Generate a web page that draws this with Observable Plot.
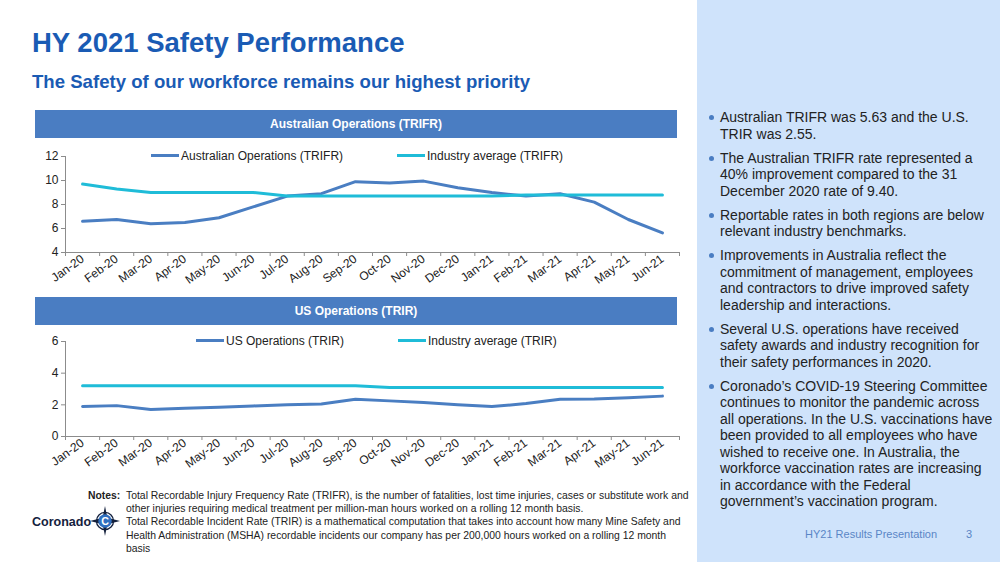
<!DOCTYPE html>
<html><head><meta charset="utf-8">
<script src="https://cdn.jsdelivr.net/npm/d3@7"></script>
<script src="https://cdn.jsdelivr.net/npm/@observablehq/plot@0.6"></script>
<style>
html,body{margin:0;padding:0}
body{width:1000px;height:562px;overflow:hidden;position:relative;background:#fff;font-family:"Liberation Sans",Arial,sans-serif;color:#222}
.abs{position:absolute}
#panel{left:697px;top:0;width:303px;height:562px;background:#cfe3fb}
#title{left:32px;top:27px;font-size:27.5px;font-weight:bold;color:#1a5bb4;white-space:nowrap}
#subtitle{left:32px;top:71px;font-size:18.6px;font-weight:bold;color:#1a5bb4;white-space:nowrap}
.bar{left:35px;width:642px;height:28px;background:#4a7dc2;color:#fff;font-weight:bold;font-size:12px;line-height:28px;text-align:center}
.chart{left:0;width:700px}
.legend{font-size:12px;color:#222;white-space:nowrap;line-height:14px}
.legend span.sw{display:inline-block;width:28px;height:3px;vertical-align:middle;margin-right:2px;position:relative;top:-1px}
#bullets{left:706px;top:109px;width:290px;font-size:14px;line-height:16.5px;color:#222;margin:0;padding:0;list-style:none}
#bullets li{position:relative;padding-left:14px;margin-bottom:7.5px}
#bullets li::before{content:"";position:absolute;left:3px;top:6px;width:5px;height:5px;border-radius:50%;background:#4a7dc2}
#notes{left:88px;top:489px;width:610px;font-size:10.4px;line-height:13.2px;color:#222}
#notes .lab{position:absolute;left:0;top:0;font-weight:bold}
#notes .txt{margin-left:38px;width:566px}
#logo{left:32px;top:508px;font-size:12.5px;font-weight:bold;color:#14213d;white-space:nowrap}
#footer{left:805px;top:528px;font-size:11px;color:#5a86c6;white-space:nowrap}
#page{left:966px;top:528px;font-size:11px;color:#5a86c6}
</style></head><body>
<div id="panel" class="abs"></div>
<div id="title" class="abs">HY 2021 Safety Performance</div>
<div id="subtitle" class="abs">The Safety of our workforce remains our highest priority</div>
<div class="abs bar" style="top:110px">Australian Operations (TRIFR)</div>
<div class="abs bar" style="top:297px">US Operations (TRIR)</div>
<div id="c1" class="abs chart" style="top:145px"></div>
<div id="c2" class="abs chart" style="top:330px"></div>
<div id="l1" class="abs"></div>
<div id="l2" class="abs"></div>
<ul id="bullets" class="abs"></ul>
<div id="notes" class="abs"><div class="lab">Notes:</div><div class="txt">Total Recordable Injury Frequency Rate (TRIFR), is the number of fatalities, lost time injuries, cases or substitute work and other injuries requiring medical treatment per million-man hours worked on a rolling 12 month basis.<br>Total Recordable Incident Rate (TRIR) is a mathematical computation that takes into account how many Mine Safety and Health Administration (MSHA) recordable incidents our company has per 200,000 hours worked on a rolling 12 month basis</div></div>
<div id="logo" class="abs">Coronado<svg width="30" height="30" viewBox="-14 -14 28 28" style="vertical-align:middle;margin-left:-1px;position:relative;top:-2px"><path d="M0,-14 L2.2,-3 L14,0 L2.2,3 L0,14 L-2.2,3 L-14,0 L-2.2,-3Z" fill="#14213d"/><circle r="8" fill="none" stroke="#14213d" stroke-width="1.2"/><circle r="6.3" fill="#2f6fc0"/><text x="0" y="3.6" font-size="10" font-weight="bold" fill="#fff" text-anchor="middle">C</text></svg></div>
<div id="footer" class="abs">HY21 Results Presentation</div>
<div id="page" class="abs">3</div>
<script>
// ---- data ----
const months = ["Jan-20","Feb-20","Mar-20","Apr-20","May-20","Jun-20","Jul-20","Aug-20","Sep-20","Oct-20","Nov-20","Dec-20","Jan-21","Feb-21","Mar-21","Apr-21","May-21","Jun-21"];
const ausTRIFR = [6.6,6.75,6.4,6.5,6.9,7.8,8.7,8.9,9.9,9.8,9.95,9.4,9.0,8.7,8.9,8.2,6.75,5.63];
const indTRIFR = [9.7,9.3,9.0,9.0,9.0,9.0,8.7,8.7,8.7,8.7,8.7,8.7,8.7,8.8,8.8,8.8,8.8,8.8];
const usTRIR = [1.9,1.95,1.7,1.78,1.85,1.93,2.0,2.05,2.35,2.25,2.14,2.01,1.89,2.08,2.35,2.37,2.45,2.55];
const indTRIR = [3.2,3.2,3.2,3.2,3.2,3.2,3.2,3.2,3.2,3.1,3.1,3.1,3.1,3.1,3.1,3.1,3.1,3.1];
const yTicksAus = [4,6,8,10,12];
const yTicksUS = [0,2,4,6];
const seriesAus = ["Australian Operations (TRIFR)","Industry average (TRIFR)"];
const seriesUS = ["US Operations (TRIR)","Industry average (TRIR)"];
const colors = ["#4a7ec2","#1fbcd8"];
const bulletText = [
  "Australian TRIFR was 5.63 and the U.S. TRIR was 2.55.",
  "The Australian TRIFR rate represented a 40% improvement compared to the 31 December 2020 rate of 9.40.",
  "Reportable rates in both regions are below relevant industry benchmarks.",
  "Improvements in Australia reflect the commitment of management, employees and contractors to drive improved safety leadership and interactions.",
  "Several U.S. operations have received safety awards and industry recognition for their safety performances in 2020.",
  "Coronado\u2019s COVID-19 Steering Committee continues to monitor the pandemic across all operations. In the U.S. vaccinations have been provided to all employees who have wished to receive one. In Australia, the workforce vaccination rates are increasing in accordance with the Federal government\u2019s vaccination program."
];

const FONT = '"Liberation Sans", Arial, sans-serif';
function chart(valuesList, yTicks, height) {
  const idx = months.map((_, i) => i);
  const bounds = d3.range(months.length + 1).map(i => i - 0.5);
  const xDomain = [bounds[0], bounds[bounds.length - 1]];
  const yDomain = d3.extent(yTicks);
  const axisColor = "#8c8c8c";
  return Plot.plot({
    width: 700, height,
    marginLeft: 65, marginRight: 21, marginTop: 11, marginBottom: 38,
    x: {domain: xDomain},
    y: {domain: yDomain},
    style: {fontFamily: FONT, fontSize: "12px", background: "transparent", overflow: "visible", color: "#222"},
    marks: [
      Plot.ruleY([yDomain[0]], {stroke: axisColor}),
      Plot.ruleX([xDomain[0]], {stroke: axisColor}),
      Plot.axisY({ticks: yTicks, tickSize: 4, tickPadding: 3, tickFormat: d => String(d), stroke: axisColor, fill: "#222", fontSize: 12, label: null}),
      Plot.axisX({ticks: bounds, tickSize: 4, tickFormat: () => "", stroke: axisColor, label: null}),
      Plot.axisX({ticks: idx, tickSize: 0, tickPadding: 5, tickRotate: -36, tickFormat: i => months[i], fill: "#222", fontSize: 12, label: null}),
      ...valuesList.map((vals, k) => Plot.line(idx, {x: i => i, y: i => vals[i], stroke: colors[k], strokeWidth: 3, strokeLinejoin: "round"}))
    ]
  });
}
document.getElementById("c1").append(chart([ausTRIFR, indTRIFR], yTicksAus, 145));
document.getElementById("c2").append(chart([usTRIR, indTRIR], yTicksUS, 144));

function legend(el, names, positions, top) {
  const box = document.getElementById(el);
  names.forEach((n, k) => {
    const d = document.createElement("div");
    d.className = "abs legend";
    d.style.left = positions[k] + "px";
    d.style.top = top + "px";
    d.innerHTML = `<span class="sw" style="background:${colors[k]}"></span>${n}`;
    box.append(d);
  });
}
legend("l1", seriesAus, [151, 397], 149);
legend("l2", seriesUS, [196, 398], 334);

const ul = document.getElementById("bullets");
bulletText.forEach(t => { const li = document.createElement("li"); li.textContent = t; ul.append(li); });
</script>
</body></html>
